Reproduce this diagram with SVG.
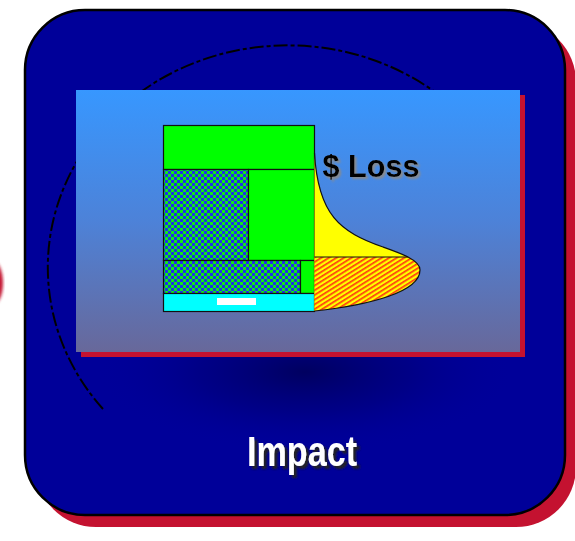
<svg xmlns="http://www.w3.org/2000/svg" width="575" height="541" viewBox="0 0 575 541">
<defs>
<style>
.lbl{font-family:"Liberation Sans",Arial,sans-serif;font-weight:bold}
.box{stroke:#111;stroke-width:1.2}
</style>
<linearGradient id="panelGrad" x1="0" y1="0" x2="0" y2="1">
<stop offset="0" stop-color="#3797FF"/>
<stop offset="0.5" stop-color="#4D82D8"/>
<stop offset="1" stop-color="#68689A"/>
</linearGradient>
<radialGradient id="glow" cx="0.5" cy="0.5" r="0.5">
<stop offset="0" stop-color="#000060"/>
<stop offset="0.5" stop-color="#00007A" stop-opacity="0.6"/>
<stop offset="1" stop-color="#000099" stop-opacity="0"/>
</radialGradient>
<pattern id="check" width="6" height="6" patternUnits="userSpaceOnUse">
<rect width="6" height="6" fill="#2030E8"/>
<rect x="0" y="0" width="3" height="3" fill="#12E818"/>
<rect x="3" y="3" width="3" height="3" fill="#12E818"/>
</pattern>
<pattern id="stripe" width="4" height="4" patternUnits="userSpaceOnUse" patternTransform="rotate(-32)">
<rect width="4" height="4" fill="#FFFF00"/>
<rect y="0" width="4" height="1.7" fill="#FF3A10"/>
</pattern>
<clipPath id="lowerClip"><rect x="300" y="257" width="140" height="70"/></clipPath>
<filter id="shadowGray" x="-10%" y="-30%" width="130%" height="170%">
<feGaussianBlur in="SourceAlpha" stdDeviation="1.2" result="b"/>
<feOffset in="b" dx="2" dy="2" result="o"/>
<feFlood flood-color="#8A8A8A"/>
<feComposite in2="o" operator="in" result="s"/>
<feMerge><feMergeNode in="s"/><feMergeNode in="SourceGraphic"/></feMerge>
</filter>
<filter id="shadowDark" x="-10%" y="-30%" width="130%" height="170%">
<feGaussianBlur in="SourceAlpha" stdDeviation="1.2" result="b"/>
<feOffset in="b" dx="2.5" dy="2.5" result="o"/>
<feFlood flood-color="#222222"/>
<feComposite in2="o" operator="in" result="s"/>
<feMerge><feMergeNode in="s"/><feMergeNode in="SourceGraphic"/></feMerge>
</filter>
<filter id="blurRed"><feGaussianBlur stdDeviation="1.5"/></filter>
</defs>

<g id="edge-fragment">
<ellipse cx="-6" cy="283" rx="9" ry="21" fill="#C41230" filter="url(#blurRed)"/>
</g>

<g id="card">
<rect x="36" y="22" width="540" height="505" rx="60" fill="#C41230"/>
<rect x="25" y="10" width="540" height="505" rx="60" fill="#000099" stroke="#000" stroke-width="2.5"/>
<ellipse cx="305" cy="372" rx="210" ry="80" fill="url(#glow)"/>
</g>

<g id="orbit">
<path d="M103 409 A240 222 0 1 1 480 134.4" fill="none" stroke="#000" stroke-width="2" stroke-dasharray="14 3 4 3"/>
</g>

<g id="panel">
<rect x="81" y="95" width="444" height="262" fill="#C41230"/>
<rect x="76" y="90" width="444" height="262" fill="url(#panelGrad)"/>
</g>

<g id="chart">
<rect class="box" x="163.5" y="125.5" width="151" height="44" fill="#00FF00"/>
<rect class="box" x="163.5" y="169.5" width="85" height="91" fill="url(#check)"/>
<rect class="box" x="248.5" y="169.5" width="66" height="91" fill="#00FF00"/>
<rect class="box" x="163.5" y="260.5" width="137" height="33" fill="url(#check)"/>
<rect class="box" x="300.5" y="260.5" width="14" height="33" fill="#00FF00"/>
<rect class="box" x="163.5" y="293.5" width="151" height="18" fill="#00FFFF"/>
<rect x="217" y="298" width="39" height="7" fill="#FFFFFF"/>
</g>

<g id="loss-curve">
<path d="M314.5 153 C318 215 340 232 383 247 C400 253 420 260 420 270 C420 292 370 305 314.5 311 Z" fill="#FFFF00"/>
<path d="M314.5 153 C318 215 340 232 383 247 C400 253 420 260 420 270 C420 292 370 305 314.5 311 Z" fill="url(#stripe)" clip-path="url(#lowerClip)"/>
<line x1="314.5" y1="257" x2="408" y2="257" stroke="#111" stroke-width="1.2"/>
<path d="M314.5 153 C318 215 340 232 383 247 C400 253 420 260 420 270 C420 292 370 305 314.5 311" fill="none" stroke="#111" stroke-width="1.2"/>
</g>

<g id="loss-label">
<text class="lbl" x="322.5" y="177" font-size="30.5" fill="#000" filter="url(#shadowGray)" textLength="97" lengthAdjust="spacingAndGlyphs">$ Loss</text>
</g>

<g id="impact-label">
<text class="lbl" x="247" y="465.5" font-size="42" fill="#FFFFFF" filter="url(#shadowDark)" textLength="110" lengthAdjust="spacingAndGlyphs">Impact</text>
</g>
</svg>
